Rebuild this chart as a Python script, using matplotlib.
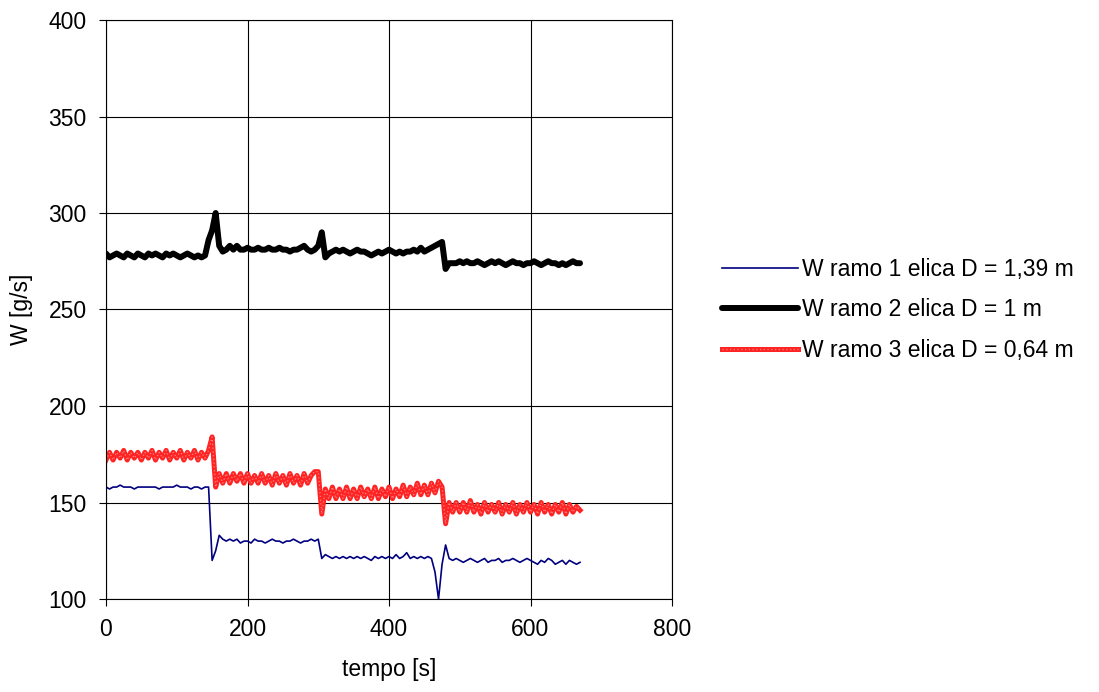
import numpy as np
import matplotlib.pyplot as plt
from matplotlib.legend_handler import HandlerTuple

plt.rcParams['font.family'] = ['Liberation Sans', 'DejaVu Sans']

# tempo campionato ogni 5 s (0 ... 670 s)
tempo = np.arange(0, 671, 5)

# W ramo 1 elica D = 1,39 m
w_ramo1 = [
    158, 157, 158, 158, 159, 158, 158, 158, 157, 158,
    158, 158, 158, 158, 158, 157, 158, 158, 158, 158,
    159, 158, 158, 158, 157, 158, 158, 157, 158, 158,
    120, 125, 133, 131, 130, 131, 130, 131, 129, 130,
    130, 129, 131, 130, 130, 129, 130, 131, 130, 130,
    129, 130, 130, 131, 130, 129, 130, 130, 131, 130,
    131, 121, 123, 122, 121, 122, 121, 122, 121, 122,
    121, 122, 121, 122, 121, 120, 122, 121, 122, 121,
    122, 121, 123, 121, 122, 124, 121, 122, 121, 122,
    121, 122, 121, 114, 100, 118, 128, 121, 120, 121,
    120, 119, 120, 121, 120, 119, 120, 121, 119, 120,
    120, 121, 119, 120, 120, 121, 120, 119, 120, 121,
    120, 119, 118, 120, 119, 121, 120, 118, 119, 120,
    118, 120, 119, 118, 119]

# W ramo 2 elica D = 1 m
w_ramo2 = [
    279, 277, 278, 279, 278, 277, 279, 278, 277, 279,
    278, 277, 279, 278, 279, 278, 277, 279, 278, 279,
    278, 277, 278, 279, 278, 277, 278, 277, 278, 286,
    291, 300, 283, 280, 281, 283, 281, 283, 281, 281,
    282, 281, 281, 282, 281, 281, 282, 281, 281, 282,
    281, 281, 280, 281, 281, 282, 283, 281, 280, 281,
    283, 290, 277, 279, 280, 281, 280, 281, 280, 279,
    280, 281, 280, 280, 279, 278, 279, 280, 279, 280,
    281, 280, 279, 280, 279, 280, 280, 281, 280, 282,
    280, 281, 282, 283, 284, 285, 271, 274, 274, 274,
    275, 274, 275, 274, 274, 275, 274, 273, 274, 275,
    274, 275, 274, 273, 274, 275, 274, 274, 273, 274,
    274, 275, 274, 273, 274, 275, 274, 274, 273, 274,
    273, 274, 275, 274, 274]

# W ramo 3 elica D = 0,64 m
w_ramo3 = [
    172, 176, 172, 176, 173, 177, 172, 176, 173, 176,
    172, 176, 173, 177, 172, 176, 173, 177, 172, 176,
    173, 177, 172, 176, 173, 177, 172, 176, 173, 177,
    184, 158, 165, 160, 165, 160, 165, 161, 165, 160,
    165, 160, 164, 160, 165, 160, 164, 159, 165, 160,
    164, 159, 165, 160, 164, 159, 165, 160, 164, 166,
    166, 144, 157, 152, 158, 152, 157, 152, 158, 152,
    157, 152, 158, 153, 157, 152, 158, 152, 157, 153,
    158, 152, 157, 153, 159, 153, 158, 154, 160, 154,
    159, 154, 160, 155, 161, 158, 139, 150, 145, 150,
    145, 150, 145, 151, 145, 149, 144, 150, 145, 149,
    145, 150, 144, 149, 145, 150, 144, 149, 145, 150,
    145, 149, 144, 150, 145, 149, 144, 149, 145, 150,
    144, 149, 145, 148, 146]

etichette = ['W ramo 1 elica D = 1,39 m',
             'W ramo 2 elica D = 1 m',
             'W ramo 3 elica D = 0,64 m']

fig = plt.figure(figsize=(10.99, 6.92), dpi=100)
ax = fig.add_axes([106/1099, 93/692, 566/1099, 579/692])

l1, = ax.plot(tempo, w_ramo1, color='#000080', lw=1.2)
l2, = ax.plot(tempo, w_ramo2, color='black', lw=4.3,
              solid_joinstyle='round', solid_capstyle='round')
l3, = ax.plot(tempo, w_ramo3, color='#ff2424', lw=3.6)
l3b, = ax.plot(tempo, w_ramo3, color='#ff8080', lw=0.9, ls=(0, (1, 2)))

ax.set_xlim(0, 800)
ax.set_ylim(100, 400)
ax.set_xticks([0, 200, 400, 600, 800])
ax.set_yticks([100, 150, 200, 250, 300, 350, 400])
ax.grid(True, color='black', lw=0.8)
ax.set_axisbelow(True)
for s in ax.spines.values():
    s.set_color('black')
    s.set_linewidth(0.8)
ax.tick_params(direction='out', length=5, width=0.8, labelsize=16.5, pad=9)

ax.set_xlabel('tempo [s]', fontsize=16.5, labelpad=12)
ax.set_ylabel('W [g/s]', fontsize=16.5, labelpad=11)

fig.legend([l1, l2, (l3, l3b)], etichette,
           handler_map={tuple: HandlerTuple(ndivide=1)},
           loc='center left', bbox_to_anchor=(722/1099, 1 - 310/692),
           frameon=False, fontsize=16.5, handlelength=3.3,
           handletextpad=0.2, labelspacing=0.75,
           borderpad=0, borderaxespad=0)

fig.savefig('out.png', dpi=100)
